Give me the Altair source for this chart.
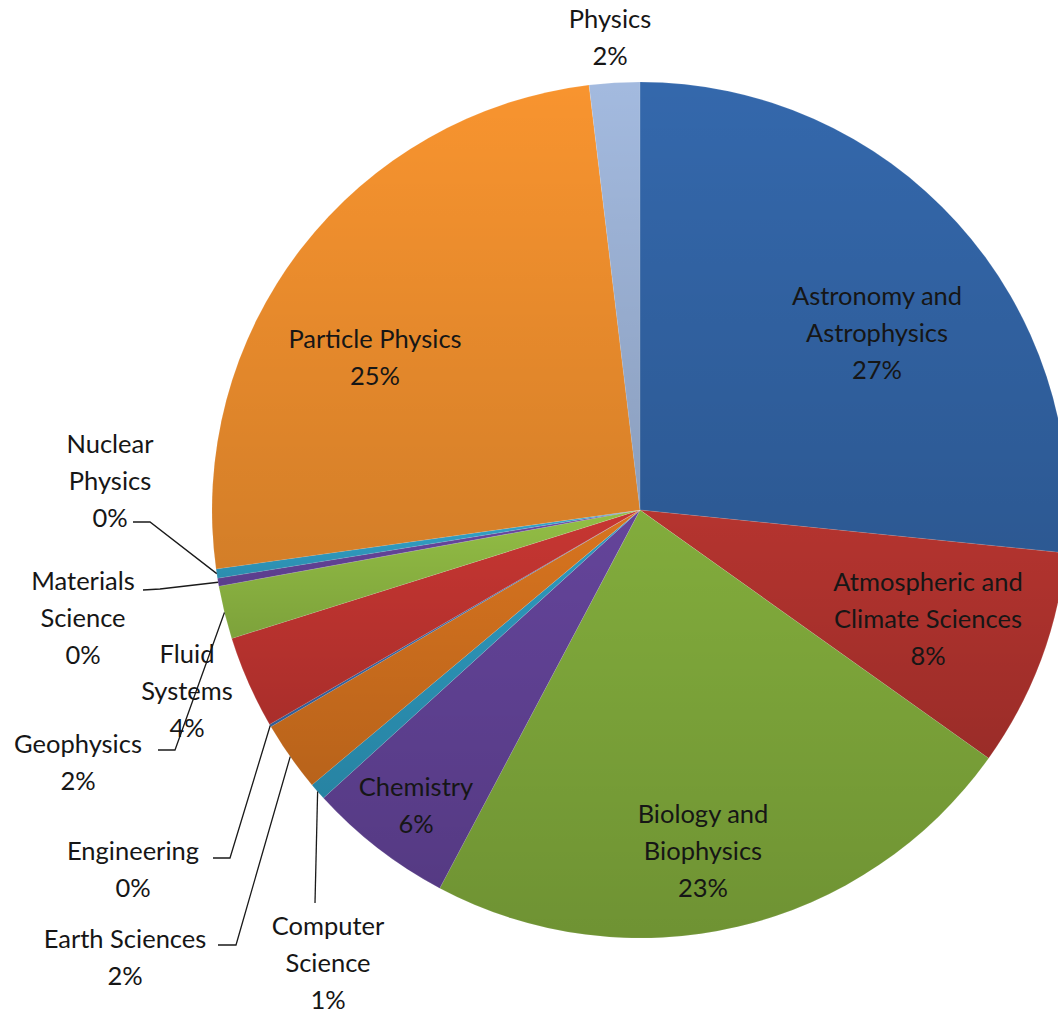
import math
import altair as alt
import pandas as pd

# ---------------- data ----------------
names = [
    "Astronomy and Astrophysics", "Atmospheric and Climate Sciences",
    "Biology and Biophysics", "Chemistry", "Computer Science", "Earth Sciences",
    "Engineering", "Fluid Systems", "Geophysics", "Materials Science",
    "Nuclear Physics", "Particle Physics", "Physics",
]
shares = [26.6, 8.25, 22.9, 5.5, 0.65, 2.65, 0.1, 3.5, 2.0, 0.3, 0.35, 25.3, 1.9]
pct_labels = ["27%", "8%", "23%", "6%", "1%", "2%", "0%", "4%", "2%", "0%", "0%", "25%", "2%"]
name_lines = [
    "Astronomy and\nAstrophysics", "Atmospheric and\nClimate Sciences",
    "Biology and\nBiophysics", "Chemistry", "Computer\nScience", "Earth Sciences",
    "Engineering", "Fluid\nSystems", "Geophysics", "Materials\nScience",
    "Nuclear\nPhysics", "Particle Physics", "Physics",
]
colors = [
    "#3468AC", "#B5342F", "#82AC3C", "#64449A", "#2E9ABF", "#D8741F",
    "#3A6DB0", "#C73632", "#93BE45", "#6A48A3", "#33A5CC", "#F8942F", "#A3BADF",
]

# ---------------- layout (pixels) ----------------
W, H = 1058, 1014
CX, CY, R = 640, 510, 428
LINE_H = 37
FONT_SIZE = 25.5
# centre x and first-line centre y of each label
label_pos = {
    "Astronomy and Astrophysics": (877, 297),
    "Atmospheric and Climate Sciences": (928, 583),
    "Biology and Biophysics": (703, 815),
    "Chemistry": (416, 788),
    "Computer Science": (328, 927),
    "Earth Sciences": (125, 940),
    "Engineering": (133, 852),
    "Fluid Systems": (187, 655),
    "Geophysics": (78, 745),
    "Materials Science": (83, 582),
    "Nuclear Physics": (110, 445),
    "Particle Physics": (375, 340),
    "Physics": (610, 20),
}
# leader lines: label-side points, then the pie edge at the slice middle
leader_pts = {
    "Nuclear Physics": [(133, 522), (150, 522)],
    "Materials Science": [(143, 590), (160, 589)],
    "Geophysics": [(158, 750), (175, 750)],
    "Engineering": [(213, 858), (230, 858)],
    "Earth Sciences": [(218, 945), (236, 945)],
    "Computer Science": [(315, 903)],
}

df = pd.DataFrame({
    "name": names,
    "share": shares,
    "idx": list(range(len(names))),
    "label": [f"{n}\n{p}" for n, p in zip(name_lines, pct_labels)],
    "lx": [label_pos[n][0] for n in names],
    "ly": [label_pos[n][1] - 12 for n in names],
})

# slice middles on the rim, from the data
total = sum(shares)
rim = {}
cum = 0.0
for n, v in zip(names, shares):
    mid = (cum + v / 2) / total * 2 * math.pi
    rim[n] = (CX + R * math.sin(mid), CY - R * math.cos(mid))
    cum += v

rows = []
for n, pts in leader_pts.items():
    seq = pts + [rim[n]]
    for i, (x, y) in enumerate(seq):
        rows.append({"lid": n, "seq": i, "x": x, "y": y})
leaders = pd.DataFrame(rows)

base = alt.Chart(df)

pie = base.mark_arc(outerRadius=R, stroke="white", strokeWidth=0.3, strokeOpacity=0.4).encode(
    theta=alt.Theta("share:Q", stack=True),
    order=alt.Order("idx:Q"),
    color=alt.Color("name:N", scale=alt.Scale(domain=names, range=colors), legend=None),
    x=alt.value(CX),
    y=alt.value(CY),
)

shade = base.mark_arc(
    outerRadius=R,
    color=alt.LinearGradient(
        gradient="linear",
        stops=[
            alt.GradientStop(color="rgba(0,0,0,0)", offset=0),
            alt.GradientStop(color="rgba(0,0,0,0.15)", offset=1),
        ],
        x1=0, x2=0, y1=0, y2=1,
    ),
).encode(
    theta=alt.Theta("share:Q", stack=True),
    order=alt.Order("idx:Q"),
    x=alt.value(CX),
    y=alt.value(CY),
)

lines = alt.Chart(leaders).mark_line(color="#1a1a1a", strokeWidth=1.3).encode(
    x=alt.X("x:Q", scale=None),
    y=alt.Y("y:Q", scale=None),
    detail="lid:N",
    order="seq:Q",
)

text = base.mark_text(
    lineBreak="\n", lineHeight=LINE_H, align="center", baseline="top",
    font="Lato", fontSize=FONT_SIZE, color="#161616",
).encode(
    x=alt.X("lx:Q", scale=None),
    y=alt.Y("ly:Q", scale=None),
    text="label:N",
)

chart = alt.layer(pie, shade, lines, text).properties(
    width=W, height=H, padding=0, autosize=alt.AutoSizeParams(type="none"),
    background="white",
).configure_view(stroke=None)

chart.save("out.html", embed_options={"renderer": "svg", "actions": False})
